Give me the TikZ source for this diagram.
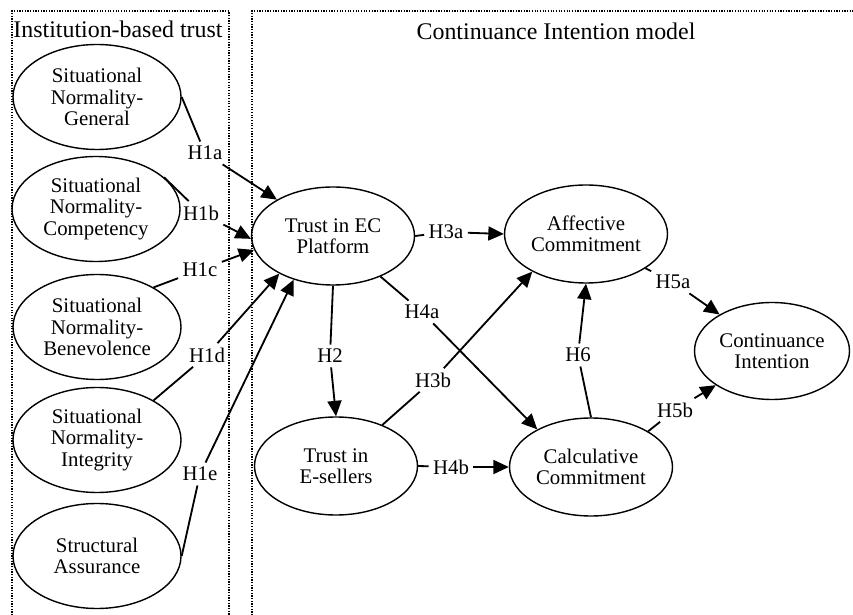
\documentclass[tikz,border=0pt]{standalone}
\usepackage{fontspec}
\setmainfont{Liberation Serif}
\usetikzlibrary{shapes.geometric,arrows.meta}
\begin{document}
\begin{tikzpicture}[
  every node/.style={font=\fontsize{14.8}{15.3}\selectfont},
  construct/.style={ellipse,draw,line width=1pt,align=center,inner sep=0pt,
    minimum width=4.2cm,minimum height=2.625cm},
  core/.style={construct,minimum width=4.075cm,minimum height=2.45cm},
  hyp/.style={inner sep=3pt},
  heading/.style={font=\fontsize{17}{20}\selectfont},
  arr/.style={line width=1.3pt,-{Triangle[length=11pt,width=10pt]}},
  seg/.style={line width=1.3pt},
  frame/.style={densely dotted,line width=0.9pt}]
\useasboundingbox (0,0) rectangle (21.325,15.35);
\draw[frame] (0.3,-0.5) -- (0.3,15.075) -- (5.725,15.075) -- (5.725,-0.5);
\draw[frame] (6.3,-0.5) -- (6.3,15.075) -- (22,15.075);
\node[heading] at (2.95,14.62) {Institution-based trust};
\node[heading] at (13.9,14.57) {Continuance Intention model};

\node[construct] (sng) at (2.425,12.925) {Situational\\Normality-\\General};
\node[construct] (snc) at (2.4,10.125) {Situational\\Normality-\\Competency};
\node[construct] (snb) at (2.425,7.175) {Situational\\Normality-\\Benevolence};
\node[construct] (sni) at (2.425,4.35) {Situational\\Normality-\\Integrity};
\node[construct] (sa) at (2.425,1.45) {Structural\\Assurance};

\node[core] (tec) at (8.325,9.45) {Trust in EC\\Platform};
\node[core] (aff) at (14.65,9.5) {Affective\\Commitment};
\node[core] (tes) at (8.4,3.7) {Trust in\\E-sellers};
\node[core] (calc) at (14.775,3.675) {Calculative\\Commitment};
\node[core,minimum width=3.875cm,minimum height=2.425cm] (ci) at (19.3,6.575) {Continuance\\Intention};

\node[hyp] (h1a) at (5.125,11.525) {H1a};
\node[hyp] (h1b) at (5.025,10.025) {H1b};
\node[hyp] (h1c) at (5.0,8.6) {H1c};
\node[hyp] (h1d) at (5.175,6.475) {H1d};
\node[hyp] (h1e) at (5.0,3.5) {H1e};
\node[hyp] (h2) at (8.25,6.45) {H2};
\node[hyp] (h3a) at (11.15,9.55) {H3a};
\node[hyp] (h4a) at (10.55,7.55) {H4a};
\node[hyp] (h3b) at (10.825,5.85) {H3b};
\node[hyp] (h4b) at (11.275,3.675) {H4b};
\node[hyp] (h6) at (14.45,6.475) {H6};
\node[hyp] (h5a) at (16.825,8.3) {H5a};
\node[hyp] (h5b) at (16.875,5.1) {H5b};

\draw[seg] (sng.east) -- (h1a);
\draw[arr] (h1a) -- (tec);
\draw[seg] (snc.25) -- (h1b);
\draw[arr] (h1b) -- (tec.182);
\draw[seg] (snb.35) -- (h1c);
\draw[arr] (h1c) -- (tec.190);
\draw[seg] (sni.35) -- (h1d);
\draw[arr] (h1d) -- (tec.215);
\draw[seg] (sa.east) -- (h1e);
\draw[arr] (h1e) -- (tec.228);
\draw[seg] (tec.south) -- (h2);
\draw[arr] (h2) -- (tes.north);
\draw[seg] (tec.east) -- (h3a);
\draw[arr] (h3a) -- (aff.west);
\draw[seg] (tec) -- (h4a);
\draw[arr] (h4a) -- (calc.145);
\draw[seg] (tes) -- (h3b);
\draw[arr] (h3b) -- (aff.215);
\draw[seg] (tes.east) -- (h4b);
\draw[arr] (h4b) -- (calc.west);
\draw[seg] (calc.north) -- (h6);
\draw[arr] (h6) -- (aff.south);
\draw[seg] (aff.-30) -- (h5a);
\draw[arr] (h5a) -- (ci);
\draw[seg] (calc.32) -- (h5b);
\draw[arr] (h5b) -- (ci);
\end{tikzpicture}
\end{document}
